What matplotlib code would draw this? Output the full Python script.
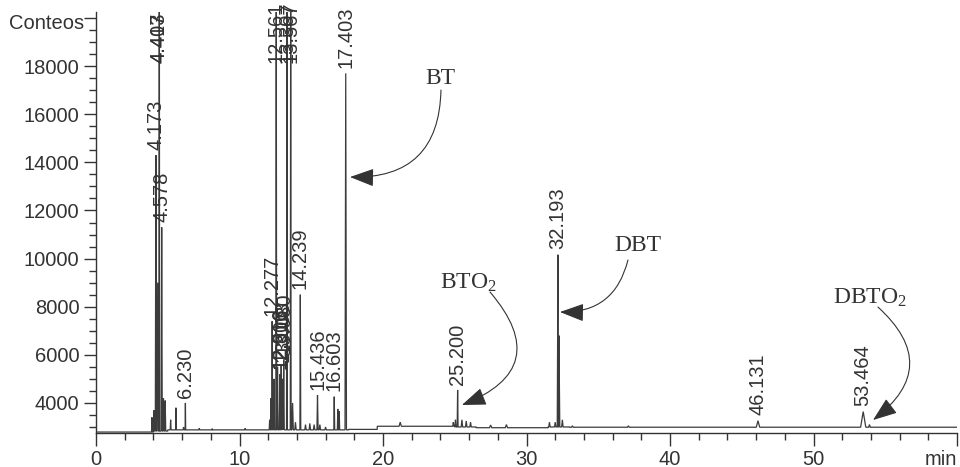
import matplotlib
matplotlib.use("Agg")
import matplotlib.pyplot as plt
from matplotlib.ticker import MultipleLocator, FixedLocator
import numpy as np

# ---------------- data ----------------
# piecewise-constant baseline (min edges, counts)
baseline_edges = [0, 4.0, 5.0, 17.6, 19.6, 25.0, 26.5, 31.5, 33.0, 60]
baseline_levels = [2790, 2830, 2880, 2900, 3030, 3000, 2970, 3000, 2990]

# peaks: retention time (min), apex (counts), half width (min)
peak_times = [3.90, 4.05, 4.173, 4.30, 4.403, 4.417, 4.578, 4.70, 4.82, 5.20, 5.57,
              6.10, 6.230, 7.20, 8.10, 10.40, 12.10, 12.20, 12.277, 12.40, 12.561,
              12.65, 12.816, 12.906, 13.003, 13.080, 13.307, 13.567, 13.70, 13.90,
              14.239, 14.60, 14.90, 15.20, 15.436, 15.60, 16.00, 16.603, 16.85, 16.95,
              17.403, 21.20, 24.90, 25.05, 25.200, 25.50, 25.80, 26.10, 27.5, 28.6,
              31.60, 32.00, 32.193, 32.26, 32.50, 33.20, 37.10, 46.131, 53.464, 53.90]
peak_heights = [3400, 3700, 14300, 9000, 21000, 21000, 11300, 4200, 4100, 3300, 3800,
                3000, 4000, 2950, 2930, 2950, 3300, 4200, 7400, 5000, 21000,
                5500, 5200, 5600, 5000, 5800, 21000, 21000, 4000, 3200,
                8500, 3100, 3150, 3100, 4330, 3100, 3000, 4260, 3750, 3650,
                17700, 3200, 3200, 3300, 4540, 3300, 3250, 3200, 3080, 3100,
                3200, 3200, 10160, 6800, 3300, 3050, 3050, 3260, 3640, 3100]
peak_widths = [0.03, 0.03, 0.04, 0.05, 0.03, 0.03, 0.04, 0.04, 0.04, 0.03, 0.02,
               0.03, 0.02, 0.03, 0.03, 0.03, 0.03, 0.03, 0.03, 0.04, 0.03,
               0.04, 0.04, 0.04, 0.04, 0.04, 0.03, 0.03, 0.05, 0.05,
               0.03, 0.05, 0.05, 0.05, 0.04, 0.05, 0.05, 0.03, 0.03, 0.03,
               0.05, 0.08, 0.04, 0.04, 0.03, 0.05, 0.05, 0.05, 0.08, 0.08,
               0.05, 0.05, 0.05, 0.06, 0.05, 0.06, 0.06, 0.12, 0.18, 0.06]

# labelled peaks
label_times = [4.173, 4.403, 4.417, 4.578, 6.230, 12.277, 12.561, 12.816, 12.906, 13.003,
               13.080, 13.307, 13.567, 14.239, 15.436, 16.603, 17.403, 25.200, 32.193,
               46.131, 53.464]
label_texts = ["4.173", "4.403", "4.417", "4.578", "6.230", "12.277", "12.561", "12.816",
               "12.906", "13.003", "13.080", "13.307", "13.567", "14.239", "15.436",
               "16.603", "17.403", "25.200", "32.193", "46.131", "53.464"]
label_heights = [14300, 21000, 21000, 11300, 4000, 7400, 21000, 5200, 5200, 5500,
                 5800, 21000, 21000, 8500, 4330, 4260, 17700, 4540, 10160, 3260, 3640]

# compound annotations: text, text position, arrow tail, arrow head, curvature
comp_names = ["BT", "DBT", "BTO$_2$", "DBTO$_2$"]
comp_text_xy = [(23.97, 17505), (37.77, 10564), (25.92, 8984), (53.94, 8361)]
comp_tail_xy = [(24.04, 17006), (37.07, 9940), (27.46, 8610), (54.49, 7987)]
comp_head_xy = [(17.70, 13390), (32.33, 7779), (25.50, 3914), (54.15, 3290)]
comp_rad = [-0.5, -0.4, -0.7, -0.6]

x_major = [0, 10, 20, 30, 40, 50, 60]
x_labels = ["0", "10", "20", "30", "40", "50", "min"]
y_major = [4000, 6000, 8000, 10000, 12000, 14000, 16000, 18000, 20000]
y_labels = ["4000", "6000", "8000", "10000", "12000", "14000", "16000", "18000", ""]
y_title = "Conteos"

# ---------------- build trace ----------------
def base_at(t):
    i = np.searchsorted(baseline_edges, t, side="right") - 1
    i = min(max(i, 0), len(baseline_levels) - 1)
    return baseline_levels[i]

pts = []
for i in range(len(baseline_levels)):
    pts.append((baseline_edges[i], baseline_levels[i]))
    pts.append((baseline_edges[i + 1], baseline_levels[i]))
for t, h, w in zip(peak_times, peak_heights, peak_widths):
    pts.append((t - w, base_at(t - w)))
    pts.append((t, h))
    pts.append((t + w, base_at(t + w)))
pts.sort(key=lambda p: p[0])
tr_t = [p[0] for p in pts]
tr_v = [p[1] for p in pts]

# ---------------- figure ----------------
plt.rcParams["font.family"] = ["Liberation Sans", "DejaVu Sans"]
plt.rcParams["mathtext.fontset"] = "custom"
plt.rcParams["mathtext.rm"] = "Liberation Serif"
plt.rcParams["mathtext.it"] = "Liberation Serif"

col = "#333333"
fig = plt.figure(figsize=(9.6, 4.67), dpi=100)
ax = fig.add_axes([96 / 960, 1 - 433 / 467, (957 - 96) / 960, (433 - 12) / 467])
ax.set_xlim(0, 60)
ax.set_ylim(2750, 20250)

ax.plot(tr_t, tr_v, color="#3c3c3c", lw=0.9, solid_joinstyle="miter")

for t, txt, h in zip(label_times, label_texts, label_heights):
    y = min(h, 17900) + 220
    ax.text(t, y, txt, rotation=90, ha="center", va="bottom", fontsize=14.5,
            color=col, clip_on=False)

for name, txy, tail, head, rad in zip(comp_names, comp_text_xy, comp_tail_xy,
                                      comp_head_xy, comp_rad):
    ax.text(txy[0], txy[1], name, ha="center", va="center", fontsize=17,
            family="Liberation Serif", color=col)
    ax.annotate("", xy=head, xytext=tail,
                arrowprops=dict(arrowstyle="-|>,head_length=0.75,head_width=0.28",
                                connectionstyle=f"arc3,rad={rad}", color=col, lw=0.8,
                                mutation_scale=20, shrinkA=0, shrinkB=0))

for s in ["top", "right"]:
    ax.spines[s].set_visible(False)
for s in ["left", "bottom"]:
    ax.spines[s].set_color(col)
    ax.spines[s].set_linewidth(1.0)

ax.xaxis.set_major_locator(FixedLocator(x_major))
ax.set_xticklabels(x_labels)
ax.get_xticklabels()[-1].set_horizontalalignment("right")
ax.xaxis.set_minor_locator(MultipleLocator(2))
ax.yaxis.set_major_locator(FixedLocator(y_major))
ax.set_yticklabels(y_labels)
ax.yaxis.set_minor_locator(MultipleLocator(500))
ax.tick_params(axis="both", which="major", length=9, width=1.0, color=col,
               labelsize=14.5, labelcolor=col, pad=3)
ax.tick_params(axis="both", which="minor", length=5, width=1.0, color=col)
ax.text(-0.014, 19780, y_title, transform=ax.get_yaxis_transform(), ha="right",
        va="center", fontsize=14.5, color=col)

fig.savefig("out.png", dpi=100)
